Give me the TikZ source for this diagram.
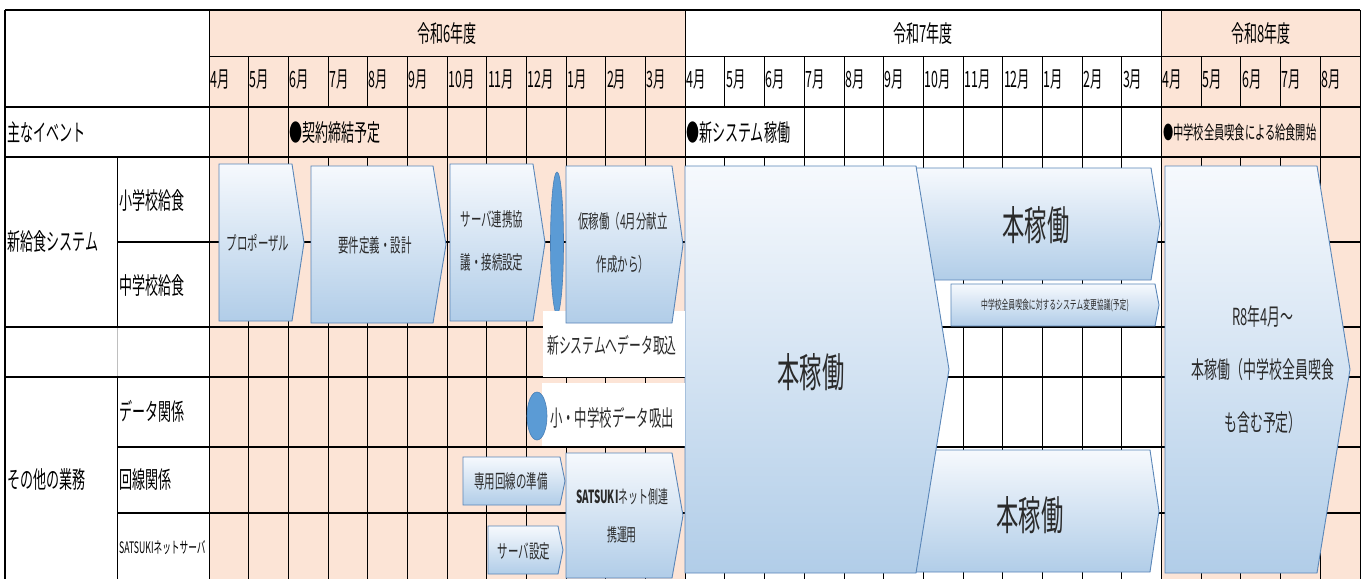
\documentclass[tikz,border=0pt]{standalone}
\usepackage{fontspec}
\setmainfont{Noto Sans CJK JP}[FakeStretch=0.55]
\definecolor{peach}{HTML}{FCE4D6}
\definecolor{shapeline}{HTML}{5A86B8}
\definecolor{shtop}{HTML}{F6F9FD}
\definecolor{shbot}{HTML}{B1CDE8}
\definecolor{ellfill}{HTML}{5B9BD5}
\definecolor{ellline}{HTML}{4A7FB5}
\definecolor{txt}{HTML}{2A2A2A}
\newcommand\chev[6]{%
  \path[chevron] (#2,#3) -- (#4,#3) -- (#5,{(#3+#6)/2}) -- (#4,#6) -- (#2,#6) -- cycle;
  \coordinate (#1) at ({(#2+#4)/2},{(#3+#6)/2});}
\begin{document}
\begin{tikzpicture}[x=1pt,y=-1pt,
  thinl/.style={line width=1pt,black},
  medl/.style={line width=1.6pt,black},
  thickl/.style={line width=2.6pt,black},
  chevron/.style={draw=shapeline,line width=0.9pt,top color=shtop,bottom color=shbot},
  lbl/.style={anchor=west,inner sep=0pt,text=black,font=\fontsize{23.7}{23.7}\selectfont},
  yearlbl/.style={inner sep=0pt,text=black,font=\fontsize{23.7}{23.7}\selectfont},
  monlbl/.style={anchor=west,inner sep=0pt,text=black,font=\fontsize{22.5}{22.5}\selectfont},
  intext/.style={inner sep=0pt,text=txt,align=center,font=\fontsize{19}{43}\selectfont},
  bigtext/.style={inner sep=0pt,text=txt,font=\fontsize{40.5}{40.5}\selectfont},
  whitebox/.style={fill=white,draw=none},
  blob/.style={fill=ellfill,draw=ellline,line width=0.6pt}]
\useasboundingbox (0,0) rectangle (1365,579);
\fill[white] (0,0) rectangle (1365,579);
% backgrounds
\fill[peach] (209,10) rectangle (685.3,579);
\fill[peach] (1161.6,10) rectangle (1360,579);
% vertical month lines
\foreach \i in {0,...,29}{
  \pgfmathsetmacro\xx{209+\i*39.69}
  \draw[thinl] (\xx,56) -- (\xx,107);
  \draw[thinl] (\xx,157) -- (\xx,579);
}
\foreach \i in {0,1,2,5,6,7,8,9,10,11,12,15,16,17,18,19,20,21,22,23,24,28,29}{
  \pgfmathsetmacro\xx{209+\i*39.69}
  \draw[thinl] (\xx,107) -- (\xx,157);
}
\foreach \i in {0,12,24,29}{
  \pgfmathsetmacro\xx{209+\i*39.69}
  \draw[thinl] (\xx,10) -- (\xx,56);
}
% left columns
\draw[medl] (5,10) -- (5,579);
\draw[thinl] (117,157) -- (117,327);
\draw[line width=0.8pt,gray!50] (117,327) -- (117,377);
\draw[thinl] (117,377) -- (117,579);
% horizontal lines
\draw[medl] (5,10) -- (1360,10);
\draw[thinl] (209,56) -- (1360,56);
\draw[thickl] (5,107) -- (1360,107);
\draw[thickl] (5,157) -- (1360,157);
\draw[thickl] (117,242) -- (1360,242);
\draw[thickl] (5,327) -- (1360,327);
\draw[thickl] (5,377) -- (1360,377);
\draw[thickl] (117,447) -- (1360,447);
\draw[thickl] (117,513) -- (1360,513);
% header texts
\node[yearlbl] (y6) at (447,33) {令和6年度};
\node[yearlbl] (y7) at (923,33) {令和7年度};
\node[yearlbl] (y8) at (1261,33) {令和8年度};
\foreach \i/\m in {0/4,1/5,2/6,3/7,4/8,5/9,6/10,7/11,8/12,9/1,10/2,11/3,
                   12/4,13/5,14/6,15/7,16/8,17/9,18/10,19/11,20/12,21/1,22/2,23/3,
                   24/4,25/5,26/6,27/7,28/8}{
  \pgfmathsetmacro\xx{210+\i*39.69}
  \node[monlbl] (m\i) at (\xx,80) {\m 月};
}
% row labels
\node[lbl] (ev) at (7,132) {主なイベント};
\node[lbl] (sys) at (7,242) {新給食システム};
\node[lbl] (elem) at (119,200) {小学校給食};
\node[lbl] (jhs) at (119,285) {中学校給食};
\node[lbl] (other) at (7,479) {その他の業務};
\node[lbl] (data) at (119,411) {データ関係};
\node[lbl] (line) at (119,479) {回線関係};
\node[lbl,font=\fontsize{15.8}{15.8}\selectfont] (srv) at (119,548) {SATSUKIネットサーバ};
% events
\node[lbl] (e1) at (289,133) {●契約締結予定};
\node[lbl] (e2) at (686,133) {●新システム稼働};
\node[lbl,font=\fontsize{18.6}{18.6}\selectfont] (e3) at (1163,132) {●中学校全員喫食による給食開始};
% R7 shapes (behind big one)
\chev{hon1}{905}{168}{1151}{1160}{280}
\node[bigtext] (hon1t) at (1036,225) {本稼働};
\chev{chg}{951}{284}{1155}{1159}{326}
\node[intext,font=\fontsize{12.4}{12.4}\selectfont] (chgt) at (1055,305) {中学校全員喫食に対するシステム変更協議(予定)};
\chev{hon2}{905}{450}{1150}{1159}{572}
\node[bigtext] (hon2t) at (1030,515) {本稼働};
\chev{honbig}{685}{166}{916}{949}{573}
\node[bigtext] (honbigt) at (811,372) {本稼働};
% R8 shape
\chev{r8}{1165}{166}{1317}{1350}{573}
\node[intext,font=\fontsize{23.5}{53}\selectfont] (r8t) at (1263,370) {R8年4月～\\本稼働（中学校全員喫食\\も含む予定）};
% R6 shapes
\chev{prop}{219}{164}{292}{304}{321}
\node[intext] (propt) at (258,243) {プロポーザル};
\chev{req}{311}{166}{433}{446}{323}
\node[intext] (reqt) at (375,245) {要件定義・設計};
\chev{srvc}{450}{164}{533}{545}{321}
\node[intext] (srvct) at (492,241) {サーバ連携協\\議・接続設定};
\fill[blob] (557,243) ellipse [x radius=6.5pt, y radius=71pt];
\node[whitebox,minimum width=142pt,minimum height=66pt,inner sep=0pt] (impbox) at (614,344) {};
\node[inner sep=0pt,text=txt,font=\fontsize{21.4}{21.4}\selectfont] (impt) at (612,345) {新システムへデータ取込};
\chev{kari}{566}{166}{672}{683}{323}
\node[intext] (karit) at (623,243) {仮稼働（4月分献立\\作成から）};
\node[whitebox,minimum width=143pt,minimum height=63pt,inner sep=0pt] (expbox) at (613.5,414.5) {};
\node[inner sep=0pt,text=txt,font=\fontsize{22.5}{22.5}\selectfont] (expt) at (612,418) {小・中学校データ吸出};
\fill[blob] (537,416) ellipse [x radius=10pt, y radius=24pt];
\chev{senyo}{463}{457}{560}{565}{505}
\node[intext] (senyot) at (511,481) {専用回線の準備};
\chev{srvs}{488}{526}{558}{563}{574}
\node[intext] (srvst) at (524,551) {サーバ設定};
\chev{sats}{566}{453}{672}{683}{578}
\node[intext,font=\fontsize{18}{38}\selectfont] (satst) at (622,516) {\textbf{SATSUKI}ネット側連\\携運用};
\end{tikzpicture}
\end{document}
